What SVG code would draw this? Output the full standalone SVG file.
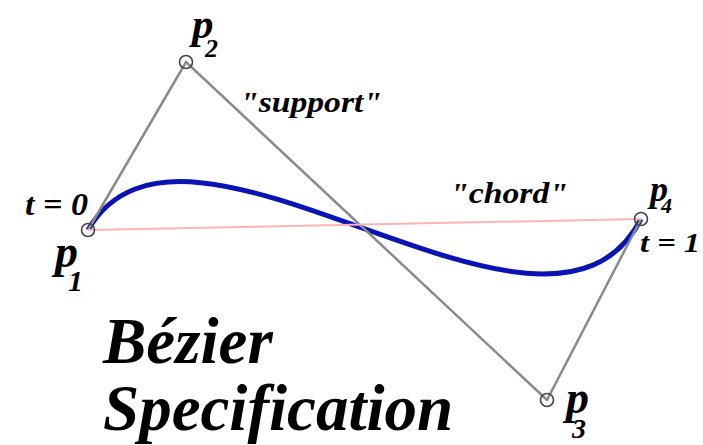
<svg xmlns="http://www.w3.org/2000/svg" width="703" height="445" viewBox="0 0 703 445">
<style>
text{font-family:"Liberation Serif","Times New Roman",serif;font-weight:bold;font-style:italic;fill:#000}
.pt{fill:none;stroke:#444;stroke-width:1.6}
.sup{stroke:#8a8a8a;stroke-width:2.5;fill:none}
.lbl{font-size:46px}
.sub{font-size:30px}
</style>
<rect width="703" height="445" fill="#fff"/>
<g id="connectors">
<path d="M88,230 C186,62 547,400 641,219" fill="none" stroke="#0a14b4" stroke-width="5"/>
<polyline class="sup" points="88,230 186,62 547,400 641,219"/>
<line x1="88" y1="230" x2="641" y2="219" stroke="#ffb4b4" stroke-width="2"/>
</g>
<g id="p1"><circle class="pt" cx="88" cy="230" r="6.5"/><text class="lbl" x="55" y="267">p</text><text class="sub" x="68" y="291">1</text></g>
<g id="p2"><circle class="pt" cx="186" cy="62" r="6.5"/><text class="lbl" x="192" y="38" style="font-size:43px">p</text><text class="sub" x="205" y="57" style="font-size:26px">2</text></g>
<g id="p3"><circle class="pt" cx="547" cy="400" r="6.5"/><text class="lbl" x="566" y="413">p</text><text class="sub" x="572" y="438" style="font-size:28px">3</text></g>
<g id="p4"><circle class="pt" cx="641" cy="219" r="6.5"/><text class="lbl" x="650" y="201" style="font-size:36px">p</text><text class="sub" x="661" y="213" style="font-size:22px">4</text></g>
<text x="240" y="112" font-size="30" textLength="142" lengthAdjust="spacingAndGlyphs">"support"</text>
<text x="450" y="203" font-size="30" textLength="118" lengthAdjust="spacingAndGlyphs">"chord"</text>
<text x="25" y="215" font-size="32" textLength="63" lengthAdjust="spacingAndGlyphs">t = 0</text>
<text x="640" y="252" font-size="28" textLength="60" lengthAdjust="spacingAndGlyphs">t = 1</text>
<text x="103" y="363" font-size="65">Bézier</text>
<text x="103" y="430" font-size="65">Specification</text>
</svg>
